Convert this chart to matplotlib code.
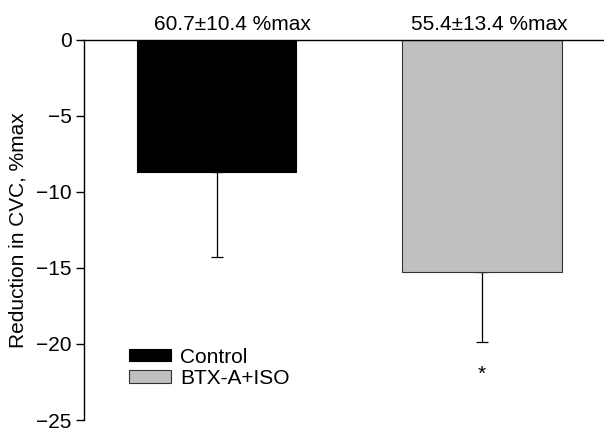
import matplotlib
matplotlib.use("Agg")
import matplotlib.pyplot as plt
from matplotlib.patches import Patch

groups = ["Control", "BTX-A+ISO"]
means = [-8.7, -15.3]
sds = [5.6, 4.6]
colors = ["#000000", "#c0c0c0"]
top_labels = ["60.7\u00b110.4 %max", "55.4\u00b113.4 %max"]
yticks = [0, -5, -10, -15, -20, -25]

plt.rcParams['font.family'] = ['Liberation Sans', 'DejaVu Sans']
FS = 15

fig = plt.figure(figsize=(6.04, 4.29), dpi=100)
ax = fig.add_axes([84/604, 9/429, 1 - 84/604, (420-39.5)/429])

x = [0, 1]
ax.bar(x, means, width=0.6, color=colors, edgecolor=["black", "#333333"], linewidth=0.8, zorder=2)
ax.errorbar(x, means, yerr=[sds, [0, 0]], fmt='none', ecolor='black', elinewidth=0.9,
            capsize=4.5, capthick=0.9, zorder=1)

ax.set_xlim(-0.5, 1.46)
ax.set_ylim(-25, 0)
ax.set_yticks(yticks)
ax.set_yticklabels([("\u2212" + str(abs(t))) if t < 0 else str(t) for t in yticks], fontsize=FS)
ax.set_xticks([])
ax.spines['right'].set_visible(False)
ax.spines['bottom'].set_visible(False)
ax.spines['top'].set_linewidth(1.0)
ax.spines['left'].set_linewidth(1.0)
ax.tick_params(axis='y', direction='out', length=6, width=1.0, pad=3)
ax.set_ylabel("Reduction in CVC, %max", fontsize=FS, labelpad=6)

offsets_pt = [11.5, 5.5]
for xi, lab, off in zip(x, top_labels, offsets_pt):
    ax.annotate(lab, xy=(xi, 0), xytext=(off, 4), textcoords='offset points',
                ha='center', va='bottom', fontsize=FS, annotation_clip=False)

ax.text(1, -22.0, "*", ha='center', va='center', fontsize=FS)

handles = [Patch(facecolor=c, edgecolor=e, linewidth=0.8) for c, e in zip(colors, ["black", "#333333"])]
ax.legend(handles, groups, loc='lower left', bbox_to_anchor=(0.087, 0.085), frameon=False,
          fontsize=FS, handlelength=2.0, handleheight=0.55, handletextpad=0.45, labelspacing=0.1,
          borderpad=0, borderaxespad=0)

fig.savefig("out.png", dpi=100)
